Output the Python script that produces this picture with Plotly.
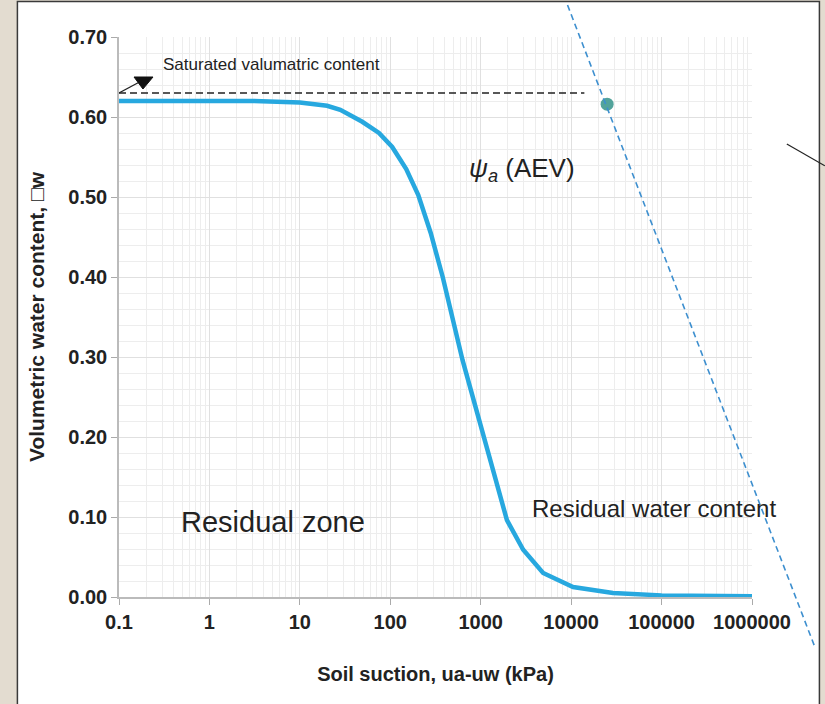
import numpy as np
import plotly.graph_objects as go

# Soil-water characteristic curve (suction in kPa vs volumetric water content)
suction = [0.1, 1, 3, 10, 20, 28, 49, 75, 105, 150, 204, 280, 380, 630, 1000, 1260,
           1950, 2950, 4900, 10500, 29000, 100000, 1000000]
theta = [0.620, 0.620, 0.620, 0.618, 0.614, 0.609, 0.594, 0.580, 0.5625, 0.535, 0.5025,
         0.455, 0.400, 0.296, 0.215, 0.171, 0.096, 0.059, 0.030, 0.0125, 0.005, 0.002, 0.001]

x_ticks = [0.1, 1, 10, 100, 1000, 10000, 100000, 1000000]
x_tick_labels = ["0.1", "1", "10", "100", "1000", "10000", "100000", "1000000"]
y_ticks = [0.0, 0.1, 0.2, 0.3, 0.4, 0.5, 0.6, 0.7]
y_tick_labels = ["0.00", "0.10", "0.20", "0.30", "0.40", "0.50", "0.60", "0.70"]

theta_sat = 0.63
sat_line_x = [0.1, 14000]
aev_point = (25000, 0.616)
# tangent line through the AEV point (extends beyond the axes)
tangent_x = [10 ** 3.96, 10 ** 6.70]
tangent_y = [0.74, -0.064]
# small arrow pointing to the saturated content line
arrow_x = [0.1, 10 ** -0.768]
arrow_y = [0.630, 0.644]
head_x = [10 ** -0.834, 10 ** -0.624, 10 ** -0.735, 10 ** -0.834]
head_y = [0.650, 0.650, 0.635, 0.650]

X_RANGE = [-1, 6]
Y_RANGE = [0, 0.7]


def to_paper(x, y):
    px = (np.log10(x) - X_RANGE[0]) / (X_RANGE[1] - X_RANGE[0])
    py = (y - Y_RANGE[0]) / (Y_RANGE[1] - Y_RANGE[0])
    return float(px), float(py)


BLUE = "#27a8df"
FONT = "Liberation Sans, Arial, sans-serif"

fig = go.Figure()

fig.add_trace(go.Scatter(x=suction, y=theta, mode="lines",
                         line=dict(color=BLUE, width=4.5),
                         hoverinfo="skip"))
fig.add_trace(go.Scatter(x=sat_line_x, y=[theta_sat, theta_sat], mode="lines",
                         line=dict(color="#222222", width=1.6, dash="7px,4px"),
                         hoverinfo="skip"))
fig.add_trace(go.Scatter(x=arrow_x, y=arrow_y, mode="lines",
                         line=dict(color="#222222", width=1.2), cliponaxis=False,
                         hoverinfo="skip"))
fig.add_trace(go.Scatter(x=head_x, y=head_y, mode="lines", fill="toself",
                         fillcolor="#111111", line=dict(color="#111111", width=1),
                         hoverinfo="skip"))
fig.add_trace(go.Scatter(x=[aev_point[0]], y=[aev_point[1]], mode="markers",
                         marker=dict(color="#52a39b", size=13), cliponaxis=False,
                         hoverinfo="skip"))

p0 = to_paper(tangent_x[0], tangent_y[0])
p1 = to_paper(tangent_x[1], tangent_y[1])

shapes = [
    # white panel with dark frame
    dict(type="rect", xref="paper", yref="paper", x0=-0.1605, x1=1.1065, y0=-0.25, y1=1.0635,
         fillcolor="white", line=dict(color="#3a3a3a", width=1.5), layer="below"),
    # tangent line through AEV
    dict(type="line", xref="paper", yref="paper", x0=p0[0], y0=p0[1], x1=p1[0], y1=p1[1],
         line=dict(color="#3d8fcf", width=1.6, dash="6px,4px")),
    # stray leader line on the right edge
    dict(type="line", xref="paper", yref="paper", x0=1.055, y0=0.809, x1=1.115, y1=0.770,
         line=dict(color="#222222", width=1.2)),
]

annotations = [
    dict(x=np.log10(0.295), y=0.666, xref="x", yref="y", text="Saturated valumatric content",
         showarrow=False, xanchor="left", yanchor="middle",
         font=dict(family=FONT, size=17, color="#222222")),
    dict(x=2.85, y=0.534, xref="x", yref="y",
         text="<i>ψ<sub>a</sub></i> (AEV)", showarrow=False, xanchor="left", yanchor="middle",
         font=dict(family=FONT, size=26, color="#222222")),
    dict(x=np.log10(0.465), y=0.094, xref="x", yref="y", text="Residual zone",
         showarrow=False, xanchor="left", yanchor="middle",
         font=dict(family=FONT, size=29, color="#222222")),
    dict(x=3.545, y=0.111, xref="x", yref="y", text="Residual water content",
         showarrow=False, xanchor="left", yanchor="middle",
         font=dict(family=FONT, size=24, color="#222222")),
]

fig.update_layout(
    width=825, height=704,
    margin=dict(l=119, r=73, t=37, b=107),
    paper_bgcolor="#e3dcd0",
    plot_bgcolor="white",
    showlegend=False,
    shapes=shapes,
    annotations=annotations,
    xaxis=dict(
        type="log", range=X_RANGE,
        tickvals=x_ticks, ticktext=x_tick_labels,
        tickfont=dict(family=FONT, size=20, color="#222222", weight="bold"),
        ticks="outside", ticklen=6, tickcolor="#aaaaaa",
        showgrid=True, gridcolor="#e0e0e0", gridwidth=1,
        minor=dict(dtick="D1", showgrid=True, gridcolor="#ededed", gridwidth=1),
        showline=True, linecolor="#bbbbbb", linewidth=2,
        zeroline=False,
        title=dict(text="Soil suction, ua-uw (kPa)", standoff=35,
                   font=dict(family=FONT, size=20, color="#222222", weight="bold")),
    ),
    yaxis=dict(
        range=Y_RANGE,
        tickvals=y_ticks, ticktext=y_tick_labels,
        tickfont=dict(family=FONT, size=20, color="#222222", weight="bold"),
        ticks="outside", ticklen=6, tickcolor="#aaaaaa",
        showgrid=True, gridcolor="#e0e0e0", gridwidth=1,
        minor=dict(dtick=0.02, showgrid=True, gridcolor="#ededed", gridwidth=1),
        showline=True, linecolor="#bbbbbb", linewidth=1.5,
        zeroline=False,
        title=dict(text="Volumetric water content, \u25a1w", standoff=18,
                   font=dict(family=FONT, size=21, color="#222222", weight="bold")),
    ),
)

fig.write_html("out.html")
